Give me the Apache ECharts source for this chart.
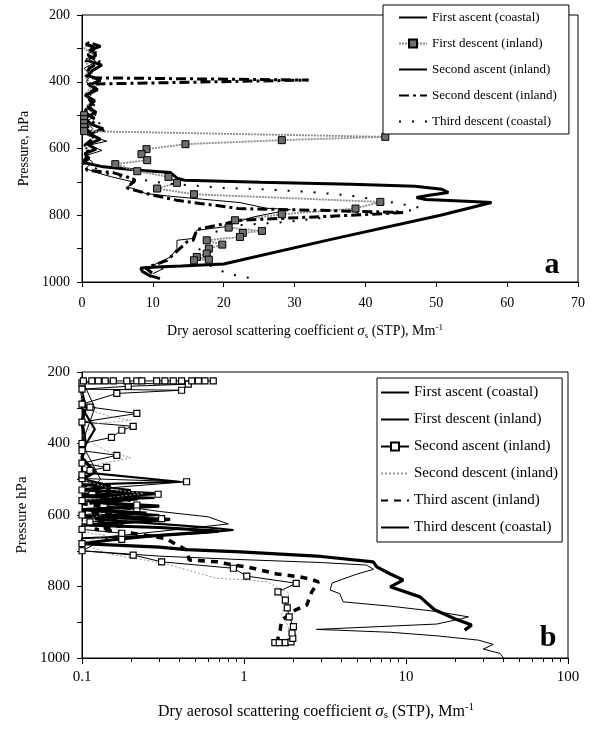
<!DOCTYPE html>
<html>
<head>
<meta charset="utf-8">
<script src="https://cdn.jsdelivr.net/npm/echarts@6/dist/echarts.min.js"></script>
<style>
  html, body { margin: 0; padding: 0; background: #fff; }
  #chart { width: 602px; height: 732px; }
</style>
</head>
<body>
<div id="chart"></div>
<script>
// ---- panel a : [x (Mm-1), pressure (hPa)] ----
const aFirstAscent = [[11,990],[9.5,980],[8.5,968],[8.3,958],[10.5,955],[14,952],[20,946],[35,873],[50.6,800],[57.8,762],[55,759],[48.5,753],[47.2,747],[49,740],[51.7,732],[50.8,722],[47,713],[38,707],[25.2,701],[14.5,695],[13.4,689],[12.5,672],[8,665],[3,655],[0.2,642],[1,630],[0.4,615],[2,602],[0.8,588],[2.6,572],[1,556],[3,541],[1.2,526],[0.4,508],[2,492],[0.8,474],[1.8,457],[0.5,441],[2.2,424],[1,410],[2.6,396],[0.8,380],[1.5,366],[2.8,350],[0.6,335],[2,320],[1,306],[2.6,294],[1.5,286]];
const aFirstDescentUpper = [[1,286],[0.3,300],[1.6,318],[0.5,340],[1.2,362],[0.4,384],[1.4,412],[0.5,438],[1.2,462],[0.4,486]];
const aFirstDescent = [[0.3,500],[0.3,512],[0.3,524],[0.3,536],[0.3,548],[42.8,565],[28.2,575],[14.6,587],[9.1,602],[8.4,617],[9.2,635],[4.7,647],[7.8,668],[12.2,685],[13.4,703],[10.6,720],[15.8,737],[42.1,760],[38.6,780],[28.2,797],[21.6,815],[20.7,837],[25.4,847],[22.7,853],[22.3,865],[17.6,875],[19.8,888],[17.9,900],[17.6,915],[16.2,925],[17.9,933],[15.8,935]];
const aSecondAscent = [[10,975],[11.5,960],[10,950],[12.5,925],[13.4,900],[13.4,875],[15.5,870],[16.2,845],[20,835],[21.9,820],[24.2,805],[29.4,783],[26,779],[22.3,762],[17,752],[12,742],[9,735],[7.8,725],[6.4,714],[7.5,702],[6,694],[4,684],[2,672],[0.5,660],[1.5,641],[0.4,622],[2.8,606],[1,590],[3.5,578],[0.8,561],[1.5,540],[0.6,520],[2,500],[0.7,480],[1.5,460],[0.4,440],[1.8,420],[0.6,400],[1.2,380],[0.3,360],[2,340],[0.8,320],[1.6,300],[0.5,290]];
const aSecondDescent = [[0.5,285],[2,300],[0.8,320],[2.5,340],[1,360],[0.6,380],[1,388],[32,395],[1,407],[2,420],[0.5,440],[1.5,465],[0.3,490],[2,515],[0.5,540],[1.8,565],[0.4,590],[1,615],[0.2,640],[0.7,665],[4.5,673],[6.8,688],[7.5,695],[6.3,718],[10,740],[13.4,755],[16.7,765],[19.5,772],[22,780],[35,786],[45.4,792],[35,803],[22.3,815],[16.2,843],[15.7,875],[14.8,880],[12,935],[9,958],[10,975],[9.5,985]];
const aThirdDescent = [[0.8,280],[2,310],[0.5,340],[1.5,380],[0.5,420],[2,460],[0.8,500],[3.5,540],[1,575],[0.3,620],[1,650],[4,680],[12,705],[20,718],[26.3,723],[32,730],[37.4,740],[42,755],[46.5,772],[47.7,778],[46.6,785],[40,795],[33,810],[29,820],[22,830],[18,855],[17,890],[16,920],[18,950],[20.5,975],[23,985],[24.5,992]];

// ---- panel b : [x (Mm-1, log), pressure (hPa)] ----
const bFirstAscent = [[23,922],[25.4,908],[20,890],[15,865],[12.2,829],[8,801],[9.6,782],[8,765],[6.6,745],[6.28,731],[3,716],[0.95,703],[0.44,697],[0.3,690],[0.1,680],[0.15,670],[0.25,660],[0.7,645],[0.3,635],[0.1,628],[0.2,620],[0.35,612],[0.1,605],[0.25,595],[0.1,585],[0.3,575],[0.12,565],[0.22,555],[0.1,548],[0.28,540],[0.1,530],[0.15,520],[0.1,500],[0.12,480],[0.1,440],[0.105,400],[0.1,340],[0.105,300],[0.1,260],[0.1,222]];
const bFirstDescent = [[0.1,222],[0.1,300],[0.12,360],[0.1,420],[0.1,480],[0.4,507],[0.1,515],[0.2,530],[0.12,545],[0.28,552],[0.1,560],[0.22,575],[0.1,585],[0.3,600],[0.12,612],[0.3,625],[0.6,635],[0.86,642],[0.55,650],[0.25,658],[0.1,665],[0.1,690]];
const bSecondAscent = [[1.55,957],[1.65,957],[1.8,957],[1.95,955],[2.0,945],[1.98,930],[2.02,912],[1.9,885],[1.85,860],[1.8,838],[1.62,815],[2.1,791],[1.04,771],[0.86,749],[0.31,731],[0.207,712],[0.1,700],[0.1,680],[0.176,668],[0.176,651],[0.1,640],[0.112,619],[0.31,610],[0.1,600],[0.218,582],[0.218,572],[0.1,560],[0.295,542],[0.1,530],[0.442,507],[0.1,498],[0.1,488],[0.112,475],[0.142,467],[0.1,455],[0.164,433],[0.1,420],[0.1,400],[0.152,383],[0.176,363],[0.207,352],[0.1,340],[0.218,316],[0.112,298],[0.1,290],[0.164,260],[0.412,251],[0.1,248],[0.193,240],[0.453,234],[0.1,230],[0.102,225],[0.115,225],[0.126,225],[0.139,225],[0.156,225],[0.189,225],[0.218,225],[0.234,225],[0.289,225],[0.325,225],[0.366,225],[0.412,225],[0.476,225],[0.523,225],[0.574,225],[0.646,225]];
const bSecondDescent = [[0.1,225],[0.18,226],[0.1,235],[0.1,300],[0.15,325],[0.2,335],[0.12,345],[0.1,380],[0.14,420],[0.2,440],[0.12,460],[0.1,500],[0.16,530],[0.24,540],[0.1,560],[0.13,600],[0.1,620],[0.11,651],[0.14,656],[0.1,680],[0.15,710],[0.32,735],[0.5,760],[0.68,777],[1.04,782],[1.38,787],[1.9,818],[1.8,850],[1.7,880],[1.85,905],[1.9,922]];
const bThirdAscent = [[1.59,959],[1.67,922],[1.71,894],[2.07,866],[2.44,852],[2.62,815],[2.88,787],[2.6,780],[2.2,773],[1.6,765],[1.04,745],[0.86,740],[0.68,731],[0.46,726],[0.44,698],[0.33,666],[0.2,650],[0.12,640],[0.18,630],[0.12,615],[0.2,605],[0.1,592],[0.16,580],[0.1,568],[0.2,558],[0.1,545],[0.15,530],[0.1,515]];
const bThirdDescent = [[0.1,222],[0.12,300],[0.1,400],[0.13,500],[0.1,560],[0.3,590],[0.6,605],[0.8,625],[0.4,640],[0.15,660],[0.1,700],[0.3,715],[1,725],[3,733],[5.7,740],[6.3,752],[5,765],[3.5,790],[3.4,810],[3.9,820],[4.1,843],[8,855],[15.5,870],[24.3,885],[22,890],[15.5,905],[2.8,920],[8,928],[15.5,938],[28,950],[34.6,962],[30,975],[38,987],[40,1000]];

// tick values
const pressureTicks = [200, 400, 600, 800, 1000];
const logMinorTicks = [0.2,0.3,0.4,0.5,0.6,0.7,0.8,0.9,2,3,4,5,6,7,8,9,20,30,40,50,60,70,80,90];

const serif = '"Liberation Serif", "DejaVu Serif", serif';
const xTitle = 'Dry aerosol scattering coefficient {g|σ}{sub|s} (STP), Mm{sup|-1}';

function richTitle(size) {
  return {
    fontFamily: serif, fontSize: size, color: '#000',
    rich: {
      g: {fontFamily: serif, fontSize: size + 1, fontStyle: 'italic'},
      sub: {fontFamily: serif, fontSize: size - 5, verticalAlign: 'bottom', padding: [6, 0, 0, 0]},
      sup: {fontFamily: serif, fontSize: size - 5, verticalAlign: 'top', padding: [0, 0, 8, 0]}
    }
  };
}

function pAxis(grid, name, size) {
  return {
    type: 'value', gridIndex: grid, inverse: true, min: 200, max: 1000, interval: 100,
    name: name, nameLocation: 'middle', nameGap: 45, nameRotate: 90,
    nameTextStyle: {fontFamily: serif, fontSize: size, color: '#000'},
    axisLine: {show: true, lineStyle: {color: '#000', width: 1}},
    axisTick: {show: true, inside: false, length: 5, lineStyle: {color: '#000'}},
    axisLabel: {
      margin: 12, fontFamily: serif, fontSize: size, color: '#000',
      formatter: v => pressureTicks.indexOf(v) >= 0 ? String(v) : ''
    },
    splitLine: {show: false}
  };
}

function ln(name, data, xi, yi, lineStyle, extra) {
  return Object.assign({
    type: 'line', name: name, data: data, xAxisIndex: xi, yAxisIndex: yi,
    symbol: 'none', animation: false, clip: true,
    itemStyle: {color: '#000'},
    lineStyle: Object.assign({color: '#000'}, lineStyle)
  }, extra || {});
}

// legend entries: hide the symbol for plain lines
const noMark = {color: 'rgba(0,0,0,0)', borderColor: 'rgba(0,0,0,0)', borderWidth: 0};
function legendItems(names, marked) {
  return names.map((n, i) => marked.indexOf(i) >= 0 ? {name: n} : {name: n, itemStyle: noMark});
}

const firstDescentData = aFirstDescentUpper.map(v => ({value: v, symbol: 'none'})).concat(aFirstDescent);

const topNames = ['a|First ascent (coastal)', 'a|First descent (inland)', 'a|Second ascent (inland)', 'a|Second descent (inland)', 'a|Third descent (coastal)'];
const botNames = ['b|First ascent (coastal)', 'b|First descent (inland)', 'b|Second ascent (inland)', 'b|Second descent (inland)', 'b|Third ascent (inland)', 'b|Third descent (coastal)'];

const chart = echarts.init(document.getElementById('chart'));
const option = {
  backgroundColor: '#fff',
  animation: false,
  grid: [
    {left: 82, top: 15, width: 496, height: 267, show: true, borderColor: '#000', borderWidth: 1, backgroundColor: 'transparent'},
    {left: 82, top: 372, width: 486, height: 286, show: true, borderColor: '#000', borderWidth: 1, backgroundColor: 'transparent'}
  ],
  xAxis: [
    {
      type: 'value', gridIndex: 0, min: 0, max: 70, interval: 10,
      name: xTitle, nameLocation: 'middle', nameGap: 41,
      nameTextStyle: Object.assign(richTitle(14), {padding: [0, 50, 0, 0]}),
      axisLine: {show: true, onZero: false, lineStyle: {color: '#000'}},
      axisTick: {show: true, length: 5, lineStyle: {color: '#000'}},
      axisLabel: {margin: 14, fontFamily: serif, fontSize: 14, color: '#000'},
      splitLine: {show: false}
    },
    {
      type: 'log', logBase: 10, gridIndex: 1, min: 0.1, max: 100,
      name: xTitle, nameLocation: 'middle', nameGap: 44,
      nameTextStyle: Object.assign(richTitle(16), {padding: [0, 18, 0, 0]}),
      axisLine: {show: true, onZero: false, lineStyle: {color: '#000'}},
      axisTick: {show: true, length: 6, lineStyle: {color: '#000'}},
      axisLabel: {margin: 12, fontFamily: serif, fontSize: 15, color: '#000',
        formatter: v => String(+(+v).toPrecision(3))},
      splitLine: {show: false}
    },
    {
      type: 'log', logBase: 10, gridIndex: 1, min: 0.1, max: 100, position: 'bottom',
      axisLine: {show: false},
      axisTick: {show: true, length: 4, customValues: logMinorTicks, lineStyle: {color: '#000'}},
      axisLabel: {show: false},
      splitLine: {show: false}
    }
  ],
  yAxis: [pAxis(0, 'Pressure, hPa', 14), pAxis(1, 'Pressure hPa', 15)],
  legend: [
    {
      data: legendItems(topNames, [1]), left: 383, top: 5, orient: 'vertical',
      itemWidth: 28, itemHeight: 10, itemGap: 13, padding: [6, 12, 6, 15],
      borderColor: '#000', borderWidth: 1, backgroundColor: '#fff',
      selectedMode: false, formatter: n => n.split('|')[1],
      textStyle: {fontFamily: serif, fontSize: 13, color: '#000'}
    },
    {
      data: legendItems(botNames, [2]), left: 377, top: 378, orient: 'vertical',
      itemWidth: 28, itemHeight: 10, itemGap: 12, padding: [7, 4, 7, 3],
      borderColor: '#000', borderWidth: 1, backgroundColor: '#fff',
      selectedMode: false, formatter: n => n.split('|')[1],
      textStyle: {fontFamily: serif, fontSize: 15, color: '#000'}
    }
  ],
  series: [
    ln(topNames[0], aFirstAscent, 0, 0, {width: 3}),
    ln(topNames[1], firstDescentData, 0, 0, {width: 1.8, color: '#8c8c8c', type: [2, 1]},
      {symbol: 'rect', symbolSize: 7, showSymbol: true,
       itemStyle: {color: '#6e6e6e', borderColor: '#000', borderWidth: 1}}),
    ln(topNames[2], aSecondAscent, 0, 0, {width: 1}),
    ln(topNames[3], aSecondDescent, 0, 0, {width: 3, type: [10, 4, 3, 4]}),
    ln(topNames[4], aThirdDescent, 0, 0, {width: 2, type: [2, 11]}),

    ln(botNames[0], bFirstAscent, 1, 1, {width: 3.2}),
    ln(botNames[1], bFirstDescent, 1, 1, {width: 2.2}),
    ln(botNames[2], bSecondAscent, 1, 1, {width: 1},
      {symbol: 'rect', symbolSize: 6, showSymbol: true,
       itemStyle: {color: '#fff', borderColor: '#000', borderWidth: 1.2}}),
    ln(botNames[3], bSecondDescent, 1, 1, {width: 1, color: '#9a9a9a', type: [2, 2]}),
    ln(botNames[4], bThirdAscent, 1, 1, {width: 3.5, type: [7, 6]}),
    ln(botNames[5], bThirdDescent, 1, 1, {width: 1})
  ],
  graphic: [
    {type: 'text', x: 552, y: 265, z: 100,
     style: {text: 'a', fontFamily: serif, fontSize: 30, fontWeight: 'bold', fill: '#000',
             align: 'center', verticalAlign: 'middle', textAlign: 'center', textVerticalAlign: 'middle'}},
    {type: 'text', x: 548, y: 638, z: 100,
     style: {text: 'b', fontFamily: serif, fontSize: 30, fontWeight: 'bold', fill: '#000',
             align: 'center', verticalAlign: 'middle', textAlign: 'center', textVerticalAlign: 'middle'}}
  ]
};
chart.setOption(option);
</script>
</body>
</html>
